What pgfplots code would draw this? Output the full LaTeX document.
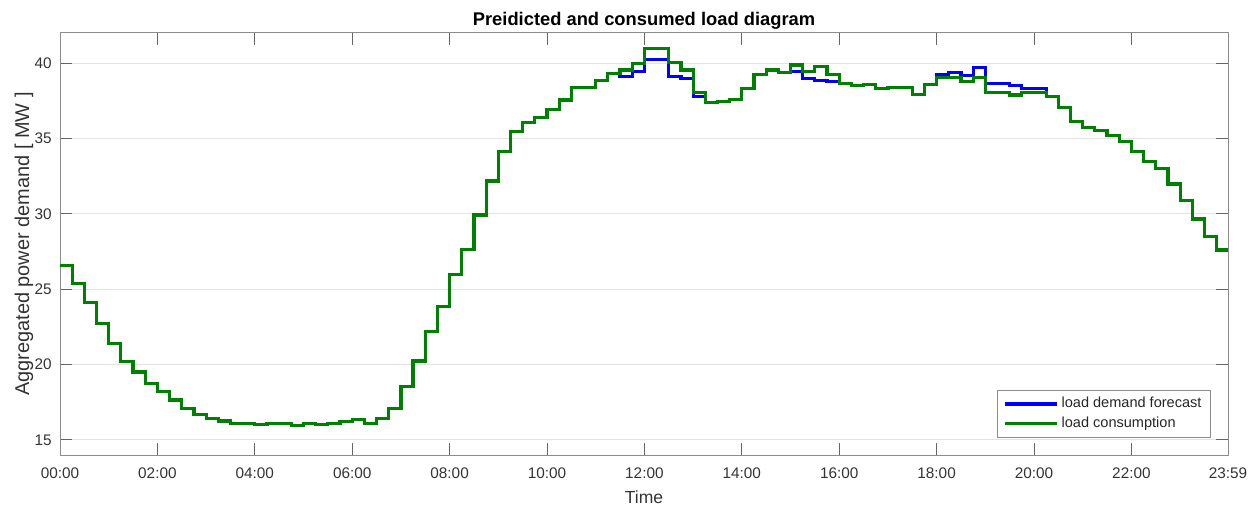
\documentclass[border=0pt]{standalone}
\usepackage{fontspec}
\setmainfont{Liberation Sans}
\usepackage{pgfplots}
\usepackage{pgfplotstable}
\pgfplotsset{compat=1.18}
\definecolor{mblue}{RGB}{0,0,255}
\definecolor{mgreen}{RGB}{0,128,0}
\pgfplotstableread{
h g b
0 26.55 26.55
0.25 25.40 25.40
0.5 24.10 24.10
0.75 22.74 22.74
1 21.39 21.39
1.25 20.22 20.22
1.5 19.51 19.51
1.75 18.76 18.76
2 18.20 18.20
2.25 17.65 17.65
2.5 17.08 17.08
2.75 16.70 16.70
3 16.44 16.44
3.25 16.26 16.26
3.5 16.10 16.10
3.75 16.08 16.08
4 16.00 16.00
4.25 16.09 16.09
4.5 16.09 16.09
4.75 15.98 15.98
5 16.09 16.09
5.25 16.04 16.04
5.5 16.10 16.10
5.75 16.22 16.22
6 16.37 16.37
6.25 16.10 16.10
6.5 16.44 16.44
6.75 17.06 17.06
7 18.55 18.55
7.25 20.24 20.24
7.5 22.18 22.18
7.75 23.84 23.84
8 25.99 25.99
8.25 27.64 27.64
8.5 29.92 29.92
8.75 32.18 32.18
9 34.12 34.12
9.25 35.49 35.49
9.5 36.07 36.07
9.75 36.40 36.40
10 36.95 36.95
10.25 37.55 37.55
10.5 38.40 38.40
10.75 38.40 38.40
11 38.87 38.87
11.25 39.32 39.32
11.5 39.54 39.10
11.75 39.98 39.43
12 40.97 40.25
12.25 40.97 40.25
12.5 40.02 39.10
12.75 39.54 38.98
13 38.03 37.77
13.25 37.37 37.37
13.5 37.44 37.44
13.75 37.59 37.59
14 38.32 38.32
14.25 39.27 39.27
14.5 39.54 39.54
14.75 39.36 39.36
15 39.87 39.45
15.25 39.43 38.98
15.5 39.76 38.87
15.75 39.27 38.76
16 38.65 38.65
16.25 38.54 38.54
16.5 38.56 38.56
16.75 38.32 38.32
17 38.39 38.39
17.25 38.39 38.39
17.5 37.92 37.92
17.75 38.59 38.59
18 39.03 39.25
18.25 39.03 39.36
18.5 38.76 39.20
18.75 39.03 39.71
19 38.03 38.65
19.25 38.03 38.65
19.5 37.88 38.50
19.75 38.03 38.32
20 38.03 38.32
20.25 37.77 37.77
20.5 37.04 37.04
20.75 36.15 36.15
21 35.71 35.71
21.25 35.51 35.51
21.5 35.18 35.18
21.75 34.78 34.78
22 34.12 34.12
22.25 33.50 33.50
22.5 33.00 33.00
22.75 31.98 31.98
23 30.87 30.87
23.25 29.66 29.66
23.5 28.48 28.48
23.75 27.60 27.60
23.9833 27.60 27.60
}\loaddata
\begin{document}
\begin{tikzpicture}
\path[use as bounding box] (-30bp,-25bp) rectangle (598bp,227.5bp);
\begin{axis}[
  at={(0,0)}, anchor=south west,
  scale only axis, width=584bp, height=211bp,
  xmin=0, xmax=23.9833, ymin=14, ymax=42,
  xtick={0,2,4,6,8,10,12,14,16,18,20,22,23.9833},
  xticklabels={00:00,02:00,04:00,06:00,08:00,10:00,12:00,14:00,16:00,18:00,20:00,22:00,23:59},
  ytick={15,20,25,30,35,40},
  /pgf/number format/assume math mode=true,
  tick align=inside,
  major tick length=6bp,
  tick style={black!60, line width=0.5bp},
  axis line style={black!45, line width=0.5bp},
  ymajorgrids,
  grid style={black!11, line width=0.5bp},
  xticklabel style={font=\fontsize{7.7}{9}\selectfont, text=black!80, anchor=north, inner sep=0pt, yshift=-6bp},
  yticklabel style={font=\fontsize{7.7}{9}\selectfont, text=black!80, anchor=east, inner sep=0pt, xshift=-4bp},
  every axis title shift=0pt,
  title={Preidicted and consumed load diagram},
  title style={font=\bfseries\fontsize{9.2}{11}\selectfont, at={(0.5,1)}, anchor=base, yshift=3.7bp},
  xlabel={Time},
  xlabel style={font=\fontsize{8.8}{10}\selectfont, text=black!80, at={(0.5,0)}, anchor=base, yshift=-24bp},
  ylabel={Aggregated power demand [ MW ]},
  ylabel style={font=\fontsize{10}{12}\selectfont, text=black!80, at={(0,0.5)}, anchor=center, yshift=18bp},
  legend style={at={(1,0)}, anchor=south east, xshift=-8.5bp, yshift=8.5bp,
    draw=black!45, line width=0.5bp, fill=white,
    font=\fontsize{7.3}{8.5}\selectfont, text=black!85,
    inner xsep=3bp, inner ysep=2bp,
    nodes={inner sep=1.5bp, text height=5.3bp, text depth=1.5bp}},
  legend cell align=left,
  legend image code/.code={\draw[#1] (0bp,0bp) -- (26bp,0bp);},
]
\addplot[const plot, color=mblue, line width=1.6bp] table[x=h, y=b] {\loaddata};
\addlegendentry{load demand forecast}
\addplot[const plot, color=mgreen, line width=1.6bp] table[x=h, y=g] {\loaddata};
\addlegendentry{load consumption}
\end{axis}
\end{tikzpicture}
\end{document}
